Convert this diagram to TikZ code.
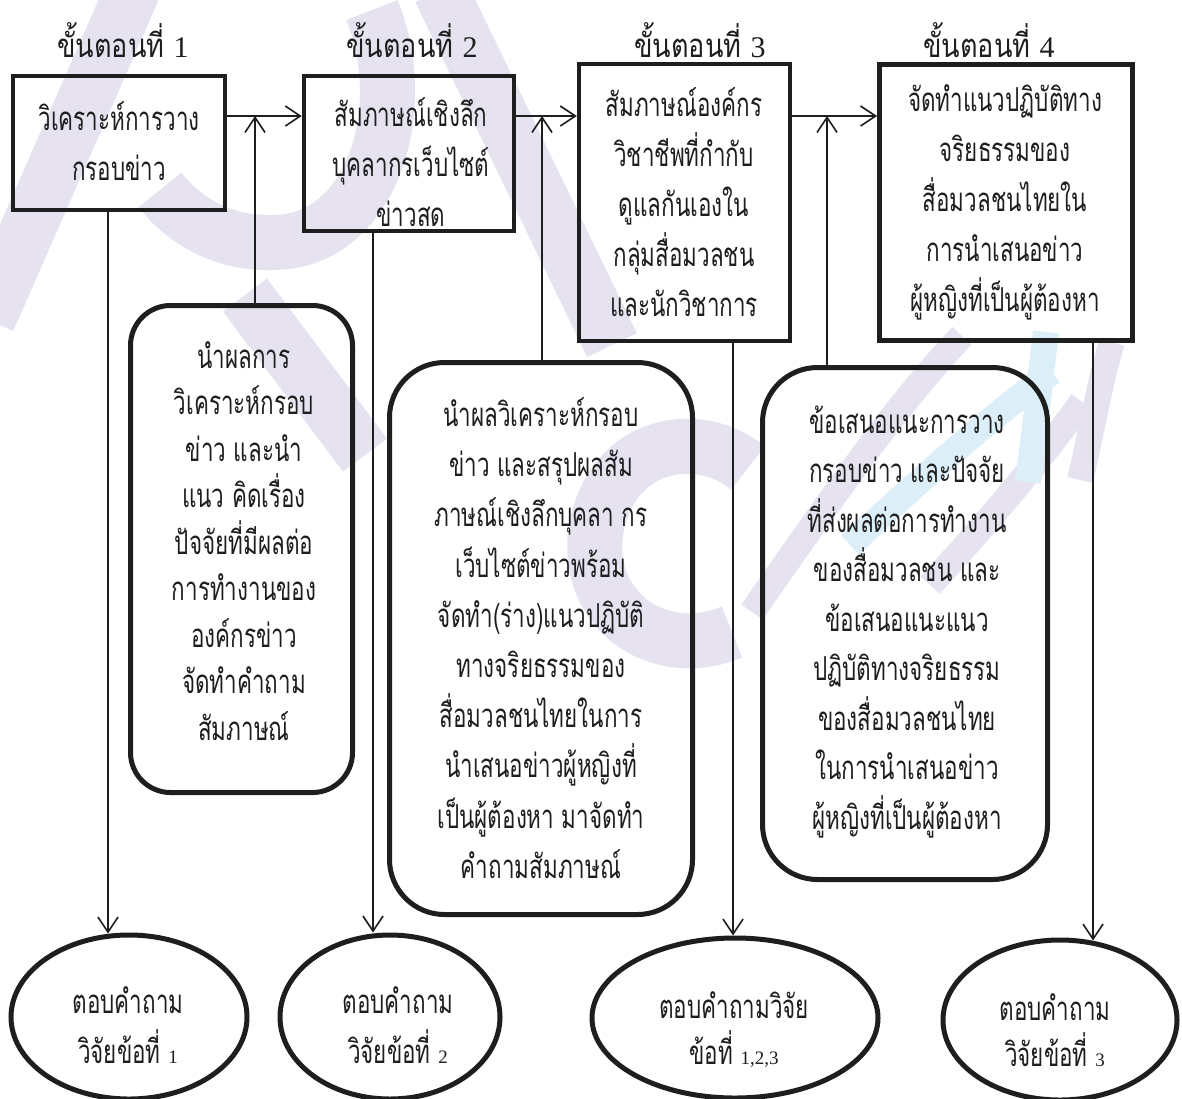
\documentclass[tikz,border=0pt]{standalone}
\usepackage{fontspec}
\newfontfamily\thai[Script=Thai,FakeStretch=0.68]{Loma}
\newfontfamily\thaihead[Script=Thai,FakeStretch=0.82]{Loma}
\newfontfamily\ser{Liberation Serif}
\usetikzlibrary{arrows.meta,shapes.geometric}
\definecolor{ink}{HTML}{1E1E1E}
\definecolor{lav}{RGB}{231,226,240}
\definecolor{sky}{RGB}{220,239,248}
\tikzset{
  box/.style={draw=ink, line width=4.5pt, inner sep=0pt},
  rbox/.style={draw=ink, line width=5pt, inner sep=0pt},
  oval/.style={ellipse, draw=ink, line width=5pt, inner sep=0pt},
  txt/.style={align=center, text=ink, inner sep=0pt, font=\thai\fontsize{33}{50}\selectfont},
  head/.style={text=ink, inner sep=0pt, font=\thaihead\fontsize{33}{34}\selectfont},
  arr/.style={draw=ink, line width=1.6pt, -{Straight Barb[length=15pt,width=20pt,line width=1.6pt]}},
  wml/.style={draw=lav, line width=55pt},
  wmb/.style={draw=sky, line width=26pt},
  wmt/.style={draw=lav, line width=26pt},
}
\newcommand{\dg}[1]{{\ser\fontsize{19}{19}\selectfont #1}}
\newcommand{\hd}[1]{{\ser\fontsize{30}{30}\selectfont #1}}
\begin{document}
\begin{tikzpicture}[x=1pt,y=-1pt]
\useasboundingbox[fill=white] (0,0) rectangle (1182,1098);

% faint watermark behind the diagram
\begin{scope}
\clip (0,0) rectangle (1182,1098);
\draw[wml] (133,-10) -- (-12,320);
\draw[wml] (372,10) .. controls (412,110) and (372,235) .. (282,242) .. controls (222,247) and (182,218) .. (160,190);
\draw[wml] (245,295) -- (365,455);
\draw[wml] (440,-10) -- (612,345);
\draw[wml] (748,468) .. controls (700,428) and (612,440) .. (596,530) .. controls (584,612) and (660,662) .. (732,632);
\draw[wmt] (752,612) .. controls (830,500) and (900,400) .. (962,336);
\draw[wmb] (850,545) .. controls (930,470) and (1000,410) .. (1052,372);
\draw[wmt] (930,585) .. controls (990,520) and (1040,460) .. (1082,402);
\draw[wmb] (1028,482) .. controls (1035,430) and (1040,380) .. (1046,332);
\draw[wmt] (1080,480) .. controls (1092,430) and (1100,380) .. (1112,342);
\end{scope}

% headings
\node[head] (H1) at (123,40) {ขั้นตอนที่ \hd{1}};
\node[head] (H2) at (412,40) {ขั้นตอนที่ \hd{2}};
\node[head] (H3) at (700,40) {ขั้นตอนที่ \hd{3}};
\node[head] (H4) at (989,40) {ขั้นตอนที่ \hd{4}};

% step boxes
\node[box, minimum width=212pt, minimum height=134pt] (B1) at (119,143) {};
\node[box, minimum width=210pt, minimum height=155pt] (B2) at (409,153.5) {};
\node[box, minimum width=211pt, minimum height=277pt] (B3) at (684.5,202.5) {};
\node[box, line width=5pt, minimum width=253pt, minimum height=276pt] (B4) at (1006,202.5) {};

\node[txt] (T1) at (119,141) {วิเคราะห์การวาง\\กรอบข่าว};
\node[txt] (T2) at (411,162) {สัมภาษณ์เชิงลึก\\บุคลากรเว็บไซต์\\ข่าวสด};
\node[txt] (T3) at (684,202) {สัมภาษณ์องค์กร\\วิชาชีพที่กำกับ\\ดูแลกันเองใน\\กลุ่มสื่อมวลชน\\และนักวิชาการ};
\node[txt] (T4) at (1005,202) {จัดทำแนวปฏิบัติทาง\\จริยธรรมของ\\สื่อมวลชนไทยใน\\การนำเสนอข่าว\\ผู้หญิงที่เป็นผู้ต้องหา};

% rounded boxes
\node[rbox, rounded corners=40pt, minimum width=222pt, minimum height=487pt] (R1) at (241.5,549) {};
\node[rbox, rounded corners=55pt, minimum width=303pt, minimum height=552pt] (R2) at (541,638.5) {};
\node[rbox, rounded corners=55pt, minimum width=285pt, minimum height=512pt] (R3) at (905,623.5) {};

\node[txt, font=\thai\fontsize{33}{46.5}\selectfont] (S1) at (244,541) {นำผลการ\\วิเคราะห์กรอบ\\ข่าว และนำ\\แนว คิดเรื่อง\\ปัจจัยที่มีผลต่อ\\การทำงานของ\\องค์กรข่าว\\จัดทำคำถาม\\สัมภาษณ์};
\node[txt, font=\thai\fontsize{33}{50.2}\selectfont] (S2) at (541,638) {นำผลวิเคราะห์กรอบ\\ข่าว และสรุปผลสัม\\ภาษณ์เชิงลึกบุคลา กร\\เว็บไซต์ข่าวพร้อม\\จัดทำ(ร่าง)แนวปฏิบัติ\\ทางจริยธรรมของ\\สื่อมวลชนไทยในการ\\นำเสนอข่าวผู้หญิงที่\\เป็นผู้ต้องหา มาจัดทำ\\คำถามสัมภาษณ์};
\node[txt, font=\thai\fontsize{33}{49.5}\selectfont] (S3) at (907,622) {ข้อเสนอแนะการวาง\\กรอบข่าว และปัจจัย\\ที่ส่งผลต่อการทำงาน\\ของสื่อมวลชน และ\\ข้อเสนอแนะแนว\\ปฏิบัติทางจริยธรรม\\ของสื่อมวลชนไทย\\ในการนำเสนอข่าว\\ผู้หญิงที่เป็นผู้ต้องหา};

% ellipses
\node[oval, minimum width=236pt, minimum height=164pt] (E1) at (129,1017) {};
\node[oval, minimum width=220pt, minimum height=164pt] (E2) at (390,1017) {};
\node[oval, minimum width=286pt, minimum height=160pt] (E3) at (735,1018) {};
\node[oval, minimum width=234pt, minimum height=160pt] (E4) at (1060,1020) {};

\node[txt, font=\thai\fontsize{33}{50}\selectfont] (F1) at (128,1025) {ตอบคำถาม\\วิจัยข้อที่ \dg{1}};
\node[txt, font=\thai\fontsize{33}{50}\selectfont] (F2) at (398,1025) {ตอบคำถาม\\วิจัยข้อที่ \dg{2}};
\node[txt, font=\thai\fontsize{33}{46}\selectfont] (F3) at (734,1030) {ตอบคำถามวิจัย\\ข้อที่ \dg{1,2,3}};
\node[txt, font=\thai\fontsize{33}{46}\selectfont] (F4) at (1055,1030) {ตอบคำถาม\\วิจัยข้อที่ \dg{3}};

% helper coordinates
\coordinate (h) at (0,116);
\coordinate (u1) at (255,0);
\coordinate (u2) at (542,0);
\coordinate (u3) at (827,0);
\coordinate (d1) at (108,0);
\coordinate (d2) at (373,0);
\coordinate (d3) at (733,0);
\coordinate (d4) at (1093,0);

% horizontal arrows
\draw[arr] (B1.east |- h) -- (B2.west |- h);
\draw[arr] (B2.east |- h) -- (B3.west |- h);
\draw[arr] (B3.east |- h) -- (B4.west |- h);

% up arrows from rounded boxes
\draw[arr] (R1.north -| u1) -- (u1 |- h);
\draw[arr] (R2.north -| u2) -- (u2 |- h);
\draw[arr] (R3.north -| u3) -- (u3 |- h);

% down arrows to ellipses
\draw[arr] (B1.south -| d1) -- ([yshift=-1pt]d1 |- E1.north);
\draw[arr] (B2.south -| d2) -- (d2 |- E2.north);
\draw[arr] (B3.south -| d3) -- (d3 |- E3.north);
\draw[arr] (B4.south -| d4) -- ([yshift=-3pt]d4 |- E4.north);
\end{tikzpicture}
\end{document}
